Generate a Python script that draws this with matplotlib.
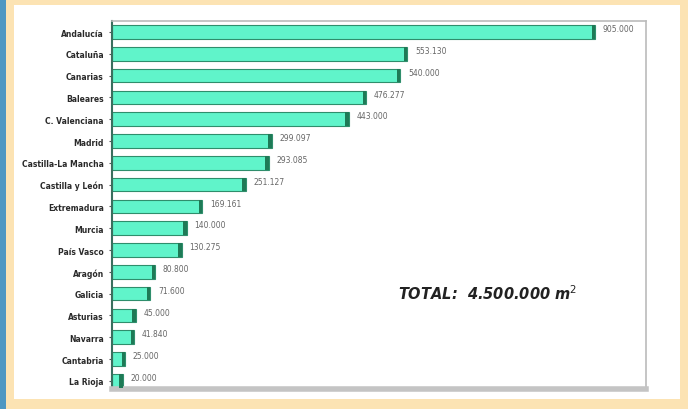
import matplotlib.pyplot as plt
from matplotlib.patches import Rectangle

# surface per region (m2), top to bottom as in the chart
regions = ['Andalucía', 'Cataluña', 'Canarias', 'Baleares', 'C. Valenciana',
           'Madrid', 'Castilla-La Mancha', 'Castilla y León', 'Extremadura',
           'Murcia', 'País Vasco', 'Aragón', 'Galicia', 'Asturias',
           'Navarra', 'Cantabria', 'La Rioja']
values = [905000, 553130, 540000, 476277, 443000,
          299097, 293085, 251127, 169161,
          140000, 130275, 80800, 71600, 45000,
          41840, 25000, 20000]
value_labels = ['905.000', '553.130', '540.000', '476.277', '443.000',
                '299.097', '293.085', '251.127', '169.161',
                '140.000', '130.275', '80.800', '71.600', '45.000',
                '41.840', '25.000', '20.000']
total_text = 'TOTAL:  4.500.000 m$^2$'

fig = plt.figure(figsize=(6.88, 4.10), dpi=100)
fig.patch.set_facecolor('#FCE3B3')

# blue strip at the left edge and white panel
fig.patches.append(Rectangle((0, 0), 0.009, 1, transform=fig.transFigure,
                             facecolor='#4E97C2', edgecolor='none', zorder=0))
fig.patches.append(Rectangle((0.021, 0.024), 0.968, 0.962, transform=fig.transFigure,
                             facecolor='white', edgecolor='none', zorder=0))

ax = fig.add_axes([0.163, 0.049, 0.776, 0.897])
ax.set_zorder(2)
ax.set_facecolor('white')

ypos = list(range(len(regions)))
ax.barh(ypos, values, height=0.62, color='#60F4CA', edgecolor='#2F8E6C',
        linewidth=0.8, zorder=2)
# darker cap at the end of each bar
cap = 7000
ax.barh(ypos, [cap] * len(values), left=[v - cap for v in values], height=0.62,
        color='#1E7A56', edgecolor='none', zorder=3)

for y, v, lab in zip(ypos, values, value_labels):
    ax.text(v + 14000, y - 0.15, lab, fontsize=5.5, color='#666666',
            va='center', ha='left')

ax.set_xlim(0, 1000000)
ax.set_ylim(len(regions) - 1 + 0.37, -0.5)
ax.set_yticks(ypos)
ax.set_yticklabels(regions, fontsize=5.5, color='#2A2A2A', fontweight='bold')
ax.tick_params(axis='y', length=2, pad=4, color='#555555')
ax.set_xticks([])

for s in ['top', 'right']:
    ax.spines[s].set_color('#BBBBBB')
    ax.spines[s].set_linewidth(1.2)
ax.spines['left'].set_color('#3A6F5E')
ax.spines['left'].set_linewidth(1.5)
ax.spines['bottom'].set_color('#C4C4C4')
ax.spines['bottom'].set_linewidth(4)

ax.text(0.535, 0.262, total_text, transform=ax.transAxes, fontsize=10.5,
        fontstyle='italic', fontweight='bold', color='#222222', va='center')

fig.savefig('out.png', dpi=100, facecolor=fig.get_facecolor())
